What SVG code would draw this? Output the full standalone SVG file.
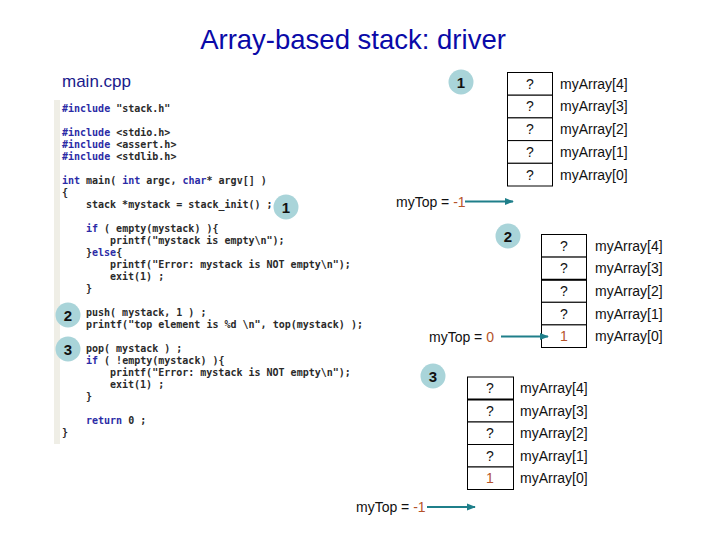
<svg xmlns="http://www.w3.org/2000/svg" width="720" height="540" viewBox="0 0 720 540">
<style>
.title{font-family:"Liberation Sans",Arial,sans-serif;font-size:27.5px;fill:#0a0aa8}
.file{font-family:"Liberation Sans",Arial,sans-serif;font-size:17px;fill:#1a1a8c}
.code{font-family:"DejaVu Sans Mono",monospace;font-size:10px;font-weight:bold;fill:#2a2a2a}
.kw{fill:#2b2ba6}
.num{font-family:"Liberation Sans",Arial,sans-serif;font-size:15px;font-weight:bold;fill:#111;text-anchor:middle}
.badge{fill:#a9d4d9}
.cell{fill:#fff;stroke:#000;stroke-width:1}
.lbl{font-family:"Liberation Sans",Arial,sans-serif;font-size:14px;fill:#111}
.q{font-family:"Liberation Sans",Arial,sans-serif;font-size:14px;fill:#111;text-anchor:middle}
.val{fill:#b5532a}
.arrow{stroke:#1f7f8a;stroke-width:2;fill:none;marker-end:url(#ah)}
</style>
<defs>
<marker id="ah" viewBox="0 0 10 10" refX="9" refY="5" markerWidth="4.5" markerHeight="4.5" orient="auto" markerUnits="strokeWidth">
<path d="M0,1 L10,5 L0,9 z" fill="#1f7f8a"/>
</marker>
</defs>
<rect width="720" height="540" fill="#fff"/>
<text class="title" x="353" y="49" text-anchor="middle">Array-based stack: driver</text>
<text class="file" x="62" y="87">main.cpp</text>

<g id="code">
<rect x="54" y="100" width="6" height="344" fill="#efeee6"/>
<text class="code" x="62" y="112"><tspan class="kw">#include</tspan> "stack.h"</text>
<text class="code" x="62" y="136"><tspan class="kw">#include</tspan> &lt;stdio.h&gt;</text>
<text class="code" x="62" y="148"><tspan class="kw">#include</tspan> &lt;assert.h&gt;</text>
<text class="code" x="62" y="160"><tspan class="kw">#include</tspan> &lt;stdlib.h&gt;</text>
<text class="code" x="62" y="184"><tspan class="kw">int</tspan> main( <tspan class="kw">int</tspan> argc, <tspan class="kw">char</tspan>* argv[] )</text>
<text class="code" x="62" y="196">{</text>
<text class="code" x="86" y="208">stack *mystack = stack_init() ;</text>
<text class="code" x="86" y="232"><tspan class="kw">if</tspan> ( empty(mystack) ){</text>
<text class="code" x="110" y="244">printf("mystack is empty\n");</text>
<text class="code" x="86" y="256">}<tspan class="kw">else</tspan>{</text>
<text class="code" x="110" y="268">printf("Error: mystack is NOT empty\n");</text>
<text class="code" x="110" y="280">exit(1) ;</text>
<text class="code" x="86" y="292">}</text>
<text class="code" x="86" y="316">push( mystack, 1 ) ;</text>
<text class="code" x="86" y="328">printf("top element is %d \n", top(mystack) );</text>
<text class="code" x="86" y="352">pop( mystack ) ;</text>
<text class="code" x="86" y="364"><tspan class="kw">if</tspan> ( !empty(mystack) ){</text>
<text class="code" x="110" y="376">printf("Error: mystack is NOT empty\n");</text>
<text class="code" x="110" y="388">exit(1) ;</text>
<text class="code" x="86" y="400">}</text>
<text class="code" x="86" y="424"><tspan class="kw">return</tspan> 0 ;</text>
<text class="code" x="62" y="436">}</text>
</g>

<g id="badge-code-1"><circle class="badge" cx="286" cy="207" r="12.5"/><text class="num" x="286" y="213">1</text></g>
<g id="badge-code-2"><circle class="badge" cx="68" cy="315" r="12.5"/><text class="num" x="68" y="321">2</text></g>
<g id="badge-code-3"><circle class="badge" cx="68" cy="349" r="12.5"/><text class="num" x="68" y="355">3</text></g>

<g id="badge-1"><circle class="badge" cx="461" cy="82" r="12.5"/><text class="num" x="461" y="88">1</text></g>
<g id="array-1">
<rect class="cell" x="507.5" y="72.5" width="45" height="22.7"/>
<rect class="cell" x="507.5" y="95.2" width="45" height="22.7"/>
<rect class="cell" x="507.5" y="117.9" width="45" height="22.7"/>
<rect class="cell" x="507.5" y="140.6" width="45" height="22.7"/>
<rect class="cell" x="507.5" y="163.3" width="45" height="22.7"/>
<text class="q" x="530" y="89">?</text>
<text class="q" x="530" y="111">?</text>
<text class="q" x="530" y="134">?</text>
<text class="q" x="530" y="157">?</text>
<text class="q" x="530" y="180">?</text>
<text class="lbl" x="560" y="89">myArray[4]</text>
<text class="lbl" x="560" y="111">myArray[3]</text>
<text class="lbl" x="560" y="134">myArray[2]</text>
<text class="lbl" x="560" y="157">myArray[1]</text>
<text class="lbl" x="560" y="180">myArray[0]</text>
</g>
<g id="top-1"><text class="lbl" x="396" y="207">myTop = <tspan class="val">-1</tspan></text></g>

<g id="badge-2"><circle class="badge" cx="508" cy="236" r="12.5"/><text class="num" x="508" y="242">2</text></g>
<g id="array-2">
<rect class="cell" x="541.5" y="234.5" width="45" height="22.6"/>
<rect class="cell" x="541.5" y="257.1" width="45" height="22.6"/>
<rect class="cell" x="541.5" y="279.7" width="45" height="22.6"/>
<rect class="cell" x="541.5" y="302.3" width="45" height="22.6"/>
<rect class="cell" x="541.5" y="324.9" width="45" height="22.6"/>
<line x1="541.5" y1="279.7" x2="586.5" y2="279.7" stroke="#000" stroke-width="2"/>
<text class="q" x="564" y="251">?</text>
<text class="q" x="564" y="273">?</text>
<text class="q" x="564" y="296">?</text>
<text class="q" x="564" y="319">?</text>
<text class="q val" x="564" y="341">1</text>
<text class="lbl" x="595" y="251">myArray[4]</text>
<text class="lbl" x="595" y="273">myArray[3]</text>
<text class="lbl" x="595" y="296">myArray[2]</text>
<text class="lbl" x="595" y="319">myArray[1]</text>
<text class="lbl" x="595" y="341">myArray[0]</text>
</g>
<g id="top-2"><text class="lbl" x="429" y="342">myTop = <tspan class="val">0</tspan></text></g>

<g id="badge-3"><circle class="badge" cx="433" cy="376" r="12.5"/><text class="num" x="433" y="382">3</text></g>
<g id="array-3">
<rect class="cell" x="467.5" y="377" width="46" height="22.5"/>
<rect class="cell" x="467.5" y="399.5" width="46" height="22.5"/>
<rect class="cell" x="467.5" y="422" width="46" height="22.5"/>
<rect class="cell" x="467.5" y="444.5" width="46" height="22.5"/>
<rect class="cell" x="467.5" y="467" width="46" height="22.5"/>
<line x1="467.5" y1="399.5" x2="513.5" y2="399.5" stroke="#000" stroke-width="2"/>
<text class="q" x="490" y="393">?</text>
<text class="q" x="490" y="416">?</text>
<text class="q" x="490" y="438">?</text>
<text class="q" x="490" y="461">?</text>
<text class="q val" x="490" y="483">1</text>
<text class="lbl" x="520" y="393">myArray[4]</text>
<text class="lbl" x="520" y="416">myArray[3]</text>
<text class="lbl" x="520" y="438">myArray[2]</text>
<text class="lbl" x="520" y="461">myArray[1]</text>
<text class="lbl" x="520" y="483">myArray[0]</text>
</g>
<g id="top-3"><text class="lbl" x="356" y="512">myTop = <tspan class="val">-1</tspan></text></g>

<g id="connectors">
<line class="arrow" x1="465" y1="201.5" x2="513" y2="201.5"/>
<line class="arrow" x1="501" y1="336.5" x2="548" y2="336.5"/>
<line class="arrow" x1="427" y1="507" x2="475" y2="507"/>
</g>
</svg>
